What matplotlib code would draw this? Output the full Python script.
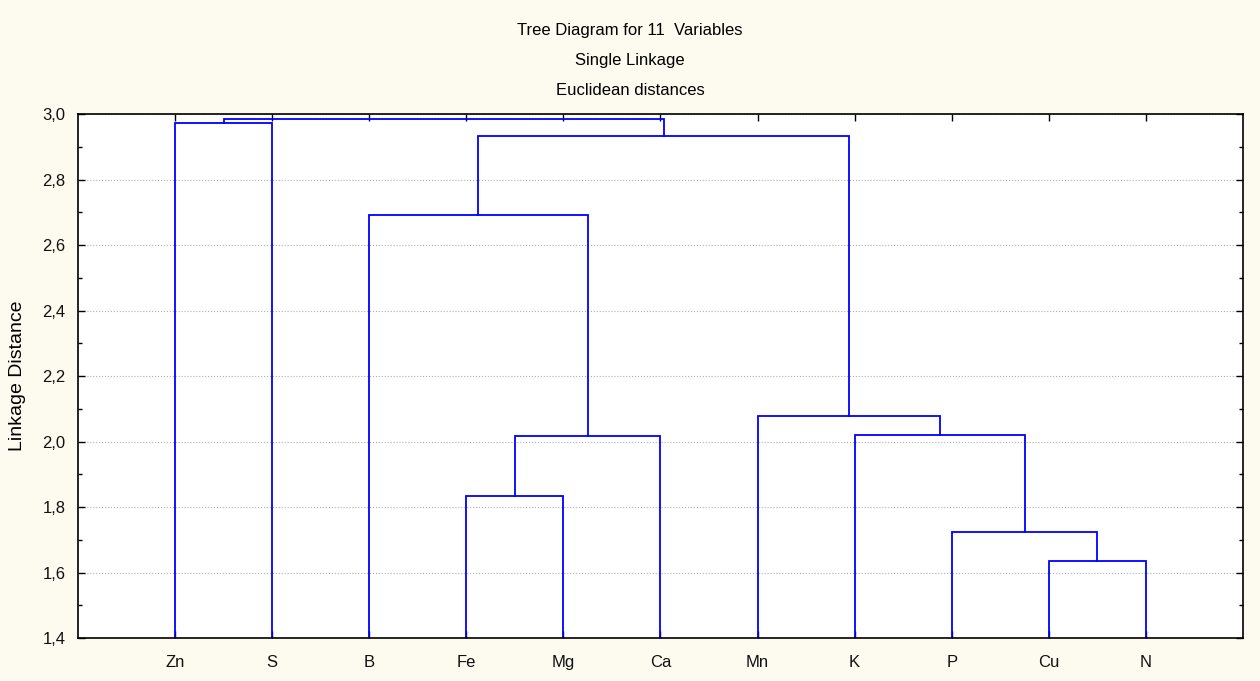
import numpy as np
import matplotlib.pyplot as plt

plt.rcParams['font.family'] = ['Liberation Sans', 'DejaVu Sans']

# Variables in the order they are drawn along the x axis
labels = ['Zn', 'S', 'B', 'Fe', 'Mg', 'Ca', 'Mn', 'K', 'P', 'Cu', 'N']

# Merges: (left member, right member, linkage distance)
# members are leaf labels or indices of earlier merges (as 'c0', 'c1', ...)
merges = [
    ('Cu', 'N', 1.635),    # c0
    ('P', 'c0', 1.723),    # c1
    ('Fe', 'Mg', 1.834),   # c2
    ('c2', 'Ca', 2.017),   # c3
    ('K', 'c1', 2.020),    # c4
    ('Mn', 'c4', 2.078),   # c5
    ('B', 'c3', 2.692),    # c6
    ('c6', 'c5', 2.934),   # c7
    ('Zn', 'S', 2.974),    # c8
    ('c8', 'c7', 2.985),   # c9
]

bg = '#FDFAEF'
blue = '#0000FF'

fig = plt.figure(figsize=(12.6, 6.81), dpi=100, facecolor=bg)
ax = fig.add_axes([0.0619, 0.0631, 0.9246, 0.7695])
ax.set_facecolor('white')

# positions and heights of each node
pos = {lab: i + 1 for i, lab in enumerate(labels)}
height = {lab: 1.4 for lab in labels}
for k, (a, b, d) in enumerate(merges):
    xa, xb = pos[a], pos[b]
    ax.plot([xa, xa, xb, xb], [height[a], d, d, height[b]],
            color=blue, lw=1.3, solid_joinstyle='miter')
    name = 'c%d' % k
    pos[name] = (xa + xb) / 2
    height[name] = d

ax.set_xlim(0, 12)
ax.set_ylim(1.4, 3.0)
ax.set_xticks(range(1, 12))
ax.set_xticklabels(labels, fontsize=12)
ax.set_yticks(np.arange(1.4, 3.01, 0.2))
ax.set_yticklabels([('%.1f' % v).replace('.', ',') for v in np.arange(1.4, 3.01, 0.2)],
                   fontsize=12)
ax.set_yticks(np.arange(1.5, 3.0, 0.2), minor=True)
ax.tick_params(axis='both', which='both', direction='in', colors='black',
               top=True, right=True, labelcolor='#111111')
ax.tick_params(axis='both', which='major', length=5, width=1)
ax.tick_params(axis='x', which='major', pad=12)
ax.tick_params(axis='y', which='major', pad=9)
ax.tick_params(axis='y', which='minor', length=3, width=1)
ax.yaxis.grid(True, which='major', color='#B0B0B0', ls=':', lw=0.8)
ax.set_axisbelow(True)
for s in ax.spines.values():
    s.set_linewidth(1.2)

ax.set_ylabel('Linkage Distance', fontsize=14, labelpad=12)

fig.text(0.5, 0.955, 'Tree Diagram for 11  Variables', ha='center', va='center', fontsize=12)
fig.text(0.5, 0.911, 'Single Linkage', ha='center', va='center', fontsize=12)
fig.text(0.5, 0.867, 'Euclidean distances', ha='center', va='center', fontsize=12)

fig.savefig('out.png', dpi=100, facecolor=bg)
